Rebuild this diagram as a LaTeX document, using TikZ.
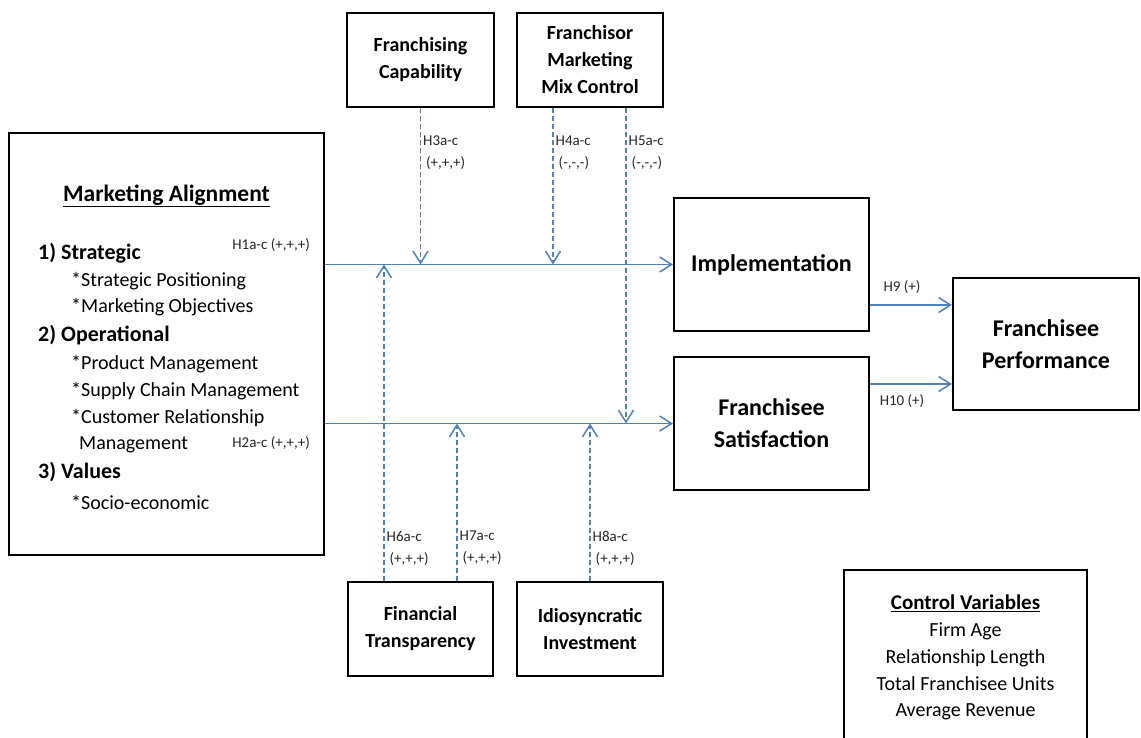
\documentclass[tikz,border=0pt]{standalone}
\usepackage{fontspec}
\setmainfont{Carlito}
\usepackage{xcolor}
\usepackage{tikz}
\usetikzlibrary{arrows.meta,positioning,calc}
\definecolor{linkblue}{HTML}{4F81BD}
\definecolor{labgray}{HTML}{262626}

\tikzset{
  box/.style={draw=black, line width=2pt, inner sep=0pt, align=center},
  boxtext/.style={font=\bfseries\fontsize{20}{27}\selectfont},
  bigtext/.style={font=\bfseries\fontsize{24}{32}\selectfont},
  mhead/.style={font=\bfseries\fontsize{22}{26}\selectfont, inner sep=0pt},
  mitem/.style={font=\fontsize{20}{24}\selectfont, inner sep=0pt},
  hlab/.style={font=\fontsize{15}{22}\selectfont, text=labgray, inner sep=0pt, align=left},
  link/.style={linkblue, line width=1.5pt, ->},
  modlink/.style={link, dash pattern=on 5pt off 3pt},
}

\begin{document}
\begin{tikzpicture}[x=1pt, y=-1pt, >={Straight Barb[length=12pt,width=15pt]}]
\clip (0,0) rectangle (1141,737);

% ---------- main boxes
\node[box, minimum width=315, minimum height=422] (ma) at (166.5,344) {};
\node[mhead, font=\bfseries\fontsize{23.5}{26}\selectfont] (matitle) at ($(ma.north)+(0,64)$) {\underline{Marketing Alignment}};
\foreach \t/\x/\y/\s [count=\i] in {
    {1) Strategic}/38/253/mhead,
    {*Strategic Positioning}/71/281/mitem,
    {*Marketing Objectives}/71/307/mitem,
    {2) Operational}/38/335/mhead,
    {*Product Management}/71/364/mitem,
    {*Supply Chain Management}/71/391/mitem,
    {*Customer Relationship}/71/418/mitem,
    {Management}/79/445/mitem,
    {3) Values}/38/472/mhead,
    {*Socio-economic}/71/502/mitem}{
  \node[\s, anchor=west] (ml\i) at (\x,\y) {\t};
}

\node[box, bigtext, minimum width=195, minimum height=133] (impl) at (771.5,264.5) {Implementation};
\node[box, bigtext, minimum width=195, minimum height=133] (sat) at (771.5,423.5) {Franchisee\\Satisfaction};
\node[box, bigtext, minimum width=186, minimum height=132] (perf) at (1046,344) {Franchisee\\Performance};

% ---------- moderators
\node[box, boxtext, minimum width=147, minimum height=94] (fc) at (420.5,60) {\raisebox{-3pt}{Franchising}\\\raisebox{-3pt}{Capability}};
\node[box, boxtext, minimum width=146, minimum height=94] (mmc) at (590,60) {Franchisor\\Marketing\\Mix Control};
\node[box, boxtext, minimum width=145, minimum height=94] (ft) at (420.5,629) {Financial\\Transparency};
\node[box, boxtext, minimum width=146, minimum height=94] (ii) at (590,629) {Idiosyncratic\\Investment};

% ---------- controls
\node[box, minimum width=243, minimum height=190, anchor=north] (ctrl) at (965.5,569) {};
\node[anchor=north, align=center, inner sep=0pt, font=\fontsize{20}{26.7}\selectfont] (ctrllist) at ($(ctrl.north)+(0,26)$)
  {\textbf{\fontsize{21}{26.7}\selectfont\underline{Control Variables}}\\Firm Age\\Relationship Length\\Total Franchisee Units\\Average Revenue};

% ---------- direct paths
\draw[link] (ma.east |- impl.west) -- (impl.west);
\draw[link] (ma.east |- sat.west) -- (sat.west);
\coordinate (h9end) at ($(perf.west)+(0,-39)$);
\coordinate (h10end) at ($(perf.west)+(0,40)$);
\draw[link] (impl.east |- h9end) -- (h9end);
\draw[link] (sat.east |- h10end) -- (h10end);

\node[hlab, anchor=east] (h1) at (310,245) {H1a-c (+,+,+)};
\node[hlab, anchor=east] (h2) at (310,443) {H2a-c (+,+,+)};
\node[hlab] (h9) at (902,287) {H9 (+)};
\node[hlab] (h10) at (902,401) {H10 (+)};

% ---------- moderating paths
\draw[modlink] (fc.south) -- (fc.south |- impl.west);
\draw[modlink] ([xshift=-37]mmc.south) -- ([xshift=-37]mmc.south |- impl.west);
\draw[modlink] ([xshift=36]mmc.south) -- ([xshift=36]mmc.south |- sat.west);
\draw[modlink] ([xshift=-36.5]ft.north) -- ([xshift=-36.5]ft.north |- impl.west);
\draw[modlink] ([xshift=36.5]ft.north) -- ([xshift=36.5]ft.north |- sat.west);
\draw[modlink] (ii.north) -- (ii.north |- sat.west);

\node[hlab, anchor=north west] (h3) at ($(fc.south)+(2.5,28)$) {H3a-c\\\hspace{3pt}(+,+,+)};
\node[hlab, anchor=north west] (h4) at ($(mmc.south)+(-34.5,28)$) {H4a-c\\\hspace{3pt}(-,-,-)};
\node[hlab, anchor=north west] (h5) at ($(mmc.south)+(38.5,28)$) {H5a-c\\\hspace{3pt}(-,-,-)};
\node[hlab, anchor=north west] (h6) at ($(ft.north)+(-34,-50)$) {H6a-c\\\hspace{3pt}(+,+,+)};
\node[hlab, anchor=north west] (h7) at ($(ft.north)+(39,-50)$) {H7a-c\\\hspace{3pt}(+,+,+)};
\node[hlab, anchor=north west] (h8) at ($(ii.north)+(2.5,-50)$) {H8a-c\\\hspace{3pt}(+,+,+)};

\end{tikzpicture}
\end{document}
